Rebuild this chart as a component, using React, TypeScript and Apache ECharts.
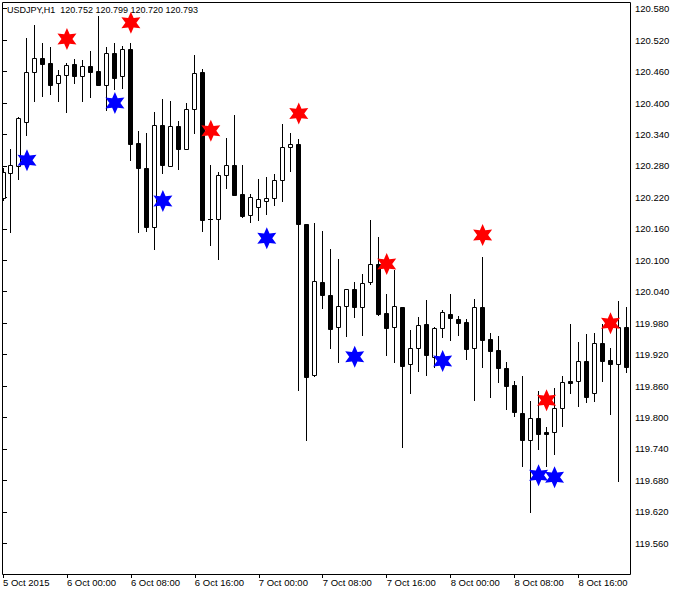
import React, { useEffect, useRef } from "react";
import * as echarts from "echarts";

const title = "USDJPY,H1  120.752 120.799 120.720 120.793";

const opens = [
  120.218, 120.267, 120.28, 120.364, 120.459, 120.486, 120.477, 120.438, 120.454, 120.474,
  120.451, 120.47, 120.461, 120.435, 120.495, 120.452, 120.503, 120.323, 120.277, 120.164,
  120.358, 120.28, 120.356, 120.313, 120.388, 120.459, 120.178, 120.179, 120.262, 120.281,
  120.226, 120.186, 120.202, 120.214, 120.218, 120.253, 120.317, 120.321, 120.169, 119.881,
  120.058, 120.033, 119.972, 120.012, 120.045, 120.01, 120.058, 120.092, 119.999, 119.972,
  120.01, 119.902, 119.932, 119.978, 119.916, 119.97, 119.997, 119.987, 119.982, 119.932,
  120.01, 119.949, 119.928, 119.894, 119.862, 119.809, 119.757, 119.8, 119.772, 119.773,
  119.819, 119.869, 119.869, 119.907, 119.846, 119.942, 119.91, 119.903, 119.973,
];
const closes = [
  120.268, 120.282, 120.372, 120.459, 120.485, 120.475, 120.435, 120.453, 120.472, 120.451,
  120.47, 120.46, 120.435, 120.495, 120.448, 120.503, 120.321, 120.277, 120.164, 120.358,
  120.282, 120.356, 120.313, 120.388, 120.457, 120.177, 120.178, 120.262, 120.281, 120.225,
  120.185, 120.22, 120.216, 120.218, 120.253, 120.316, 120.321, 120.169, 119.878, 120.06,
  120.034, 119.968, 120.012, 120.045, 120.01, 120.056, 120.092, 119.997, 119.971, 120.012,
  119.899, 119.933, 119.976, 119.919, 119.97, 120.001, 119.989, 119.98, 119.931, 120.01,
  119.947, 119.927, 119.895, 119.861, 119.81, 119.758, 119.8, 119.769, 119.769, 119.819,
  119.868, 119.866, 119.907, 119.84, 119.942, 119.908, 119.903, 119.973, 119.897,
];
const highs = [
  120.276, 120.312, 120.373, 120.525, 120.549, 120.515, 120.506, 120.463, 120.476, 120.484,
  120.482, 120.499, 120.566, 120.506, 120.514, 120.508, 120.514, 120.347, 120.342, 120.383,
  120.407, 120.404, 120.366, 120.4, 120.492, 120.465, 120.281, 120.268, 120.333, 120.377,
  120.281, 120.226, 120.255, 120.259, 120.265, 120.36, 120.343, 120.331, 120.169, 120.172,
  120.155, 120.122, 120.103, 120.046, 120.058, 120.074, 120.177, 120.144, 120.036, 120.081,
  120.011, 119.967, 119.991, 120.024, 119.972, 120.006, 120.036, 119.993, 119.987, 120.027,
  120.106, 119.961, 119.955, 119.905, 119.869, 119.879, 119.831, 119.851, 119.781, 119.857,
  119.879, 119.979, 119.944, 119.959, 119.961, 119.978, 119.932, 120.022, 120.01,
];
const lows = [
  120.215, 120.153, 120.255, 120.339, 120.403, 120.413, 120.417, 120.403, 120.383, 120.438,
  120.403, 120.412, 120.434, 120.387, 120.427, 120.428, 120.291, 120.153, 120.156, 120.121,
  120.266, 120.279, 120.275, 120.312, 120.343, 120.156, 120.13, 120.103, 120.238, 120.224,
  120.183, 120.173, 120.177, 120.189, 120.205, 120.214, 120.27, 119.853, 119.758, 119.88,
  120.008, 119.933, 119.906, 119.956, 119.991, 119.958, 120.054, 119.995, 119.92, 119.906,
  119.744, 119.847, 119.889, 119.882, 119.897, 119.954, 119.948, 119.958, 119.912, 119.834,
  119.897, 119.84, 119.868, 119.817, 119.803, 119.708, 119.62, 119.739, 119.708, 119.731,
  119.784, 119.847, 119.821, 119.83, 119.832, 119.87, 119.807, 119.678, 119.886,
];

const redStarBars = [8, 16, 26, 37, 48, 60, 68, 76];
const redStarPrices = [120.522, 120.553, 120.347, 120.38, 120.093, 120.148, 119.833, 119.98];
const blueStarBars = [3, 14, 20, 33, 44, 55, 67, 69];
const blueStarPrices = [120.291, 120.4, 120.213, 120.142, 119.916, 119.908, 119.69, 119.686];

const timeTickBars = [0, 8, 16, 24, 32, 40, 48, 56, 64, 72];
const timeTickLabels = [
  "5 Oct 2015", "6 Oct 00:00", "6 Oct 08:00", "6 Oct 16:00", "7 Oct 00:00",
  "7 Oct 08:00", "7 Oct 16:00", "8 Oct 00:00", "8 Oct 08:00", "8 Oct 16:00",
];
const priceTicks = [
  119.56, 119.62, 119.68, 119.74, 119.8, 119.86, 119.92, 119.98, 120.04,
  120.1, 120.16, 120.22, 120.28, 120.34, 120.4, 120.46, 120.52, 120.58,
];

const Y_MIN = 119.5014;
const Y_MAX = 120.5928;
const FONT = "Liberation Sans";

const starPath =
  "path://M0,-100 L25,-43.3 L86.6,-50 L50,0 L86.6,50 L25,43.3 L0,100 L-25,43.3 L-86.6,50 L-50,0 L-86.6,-50 L-25,-43.3 Z";

export default function App() {
  const ref = useRef<HTMLDivElement>(null);
  useEffect(() => {
    if (!ref.current) return;
    const chart = echarts.init(ref.current, null, { renderer: "svg" });
    const candleData = opens.map((o, i) => [i, o, closes[i], lows[i], highs[i]]);
    const option: any = {
      animation: false,
      backgroundColor: "#ffffff",
      grid: { left: 2, top: 2, right: 52, bottom: 20, show: false },
      xAxis: {
        type: "value",
        min: -0.0625,
        max: 78.4375,
        axisLine: { show: false },
        splitLine: { show: false },
        axisTick: {
          show: true,
          length: 4,
          customValues: timeTickBars,
          lineStyle: { color: "#000" },
        },
        axisLabel: {
          customValues: timeTickBars,
          formatter: (v: number) => {
            const k = timeTickBars.indexOf(Math.round(v));
            return k >= 0 ? timeTickLabels[k] : "";
          },
          align: "left",
          margin: 3,
          color: "#000",
          fontSize: 9.5,
          fontFamily: FONT,
        },
      },
      yAxis: {
        type: "value",
        position: "right",
        min: Y_MIN,
        max: Y_MAX,
        axisLine: { show: false },
        splitLine: { show: false },
        axisTick: {
          show: true,
          length: 4,
          customValues: priceTicks,
          lineStyle: { color: "#000" },
        },
        axisLabel: {
          customValues: priceTicks,
          formatter: (v: number) => v.toFixed(3),
          margin: 5,
          color: "#000",
          fontSize: 9.5,
          fontFamily: FONT,
        },
      },
      graphic: [
        {
          type: "rect",
          shape: { x: 2.5, y: 2.5, width: 628, height: 572 },
          style: { fill: "none", stroke: "#000", lineWidth: 1 },
          z: 100,
          silent: true,
        },
        {
          type: "text",
          left: 7,
          top: 5,
          style: { text: title, font: `9px "${FONT}"`, fill: "#000" },
          z: 100,
        },
      ],
      series: [
        {
          type: "custom",
          clip: true,
          data: candleData,
          encode: { x: 0, y: [1, 2, 3, 4] },
          renderItem: (params: any, api: any) => {
            const x = api.value(0);
            const o = api.value(1);
            const c = api.value(2);
            const l = api.value(3);
            const h = api.value(4);
            const pO = api.coord([x, o]);
            const pC = api.coord([x, c]);
            const pL = api.coord([x, l]);
            const pH = api.coord([x, h]);
            const cx = Math.floor(pO[0]) + 0.5;
            const yH = Math.round(pH[1]) + 0.5;
            const yL = Math.round(pL[1]) + 0.5;
            const yT = Math.round(Math.min(pO[1], pC[1])) + 0.5;
            const yB = Math.round(Math.max(pO[1], pC[1])) + 0.5;
            const bull = c > o;
            const children: any[] = [
              {
                type: "line",
                shape: { x1: cx, y1: yH - 0.5, x2: cx, y2: yL + 0.5 },
                style: { stroke: "#000", lineWidth: 1 },
              },
            ];
            if (yB - yT < 1) {
              children.push({
                type: "line",
                shape: { x1: cx - 2.5, y1: yT, x2: cx + 2.5, y2: yT },
                style: { stroke: "#000", lineWidth: 1 },
              });
            } else {
              children.push({
                type: "rect",
                shape: { x: cx - 2, y: yT, width: 4, height: yB - yT },
                style: { fill: bull ? "#fff" : "#000", stroke: "#000", lineWidth: 1 },
              });
            }
            return { type: "group", children };
          },
          z: 2,
        },
        {
          type: "scatter",
          clip: true,
          symbol: starPath,
          symbolSize: [19, 22],
          data: redStarBars.map((b, i) => [b, redStarPrices[i]]),
          itemStyle: { color: "#ff0000", opacity: 1 },
          z: 5,
        },
        {
          type: "scatter",
          clip: true,
          symbol: starPath,
          symbolSize: [19, 22],
          data: blueStarBars.map((b, i) => [b, blueStarPrices[i]]),
          itemStyle: { color: "#0000ff", opacity: 1 },
          z: 5,
        },
      ],
    };
    chart.setOption(option);
    return () => chart.dispose();
  }, []);
  return (
    <div
      ref={ref}
      style={{ position: "absolute", left: 0, top: 0, width: 682, height: 594, background: "#fff" }}
    />
  );
}
